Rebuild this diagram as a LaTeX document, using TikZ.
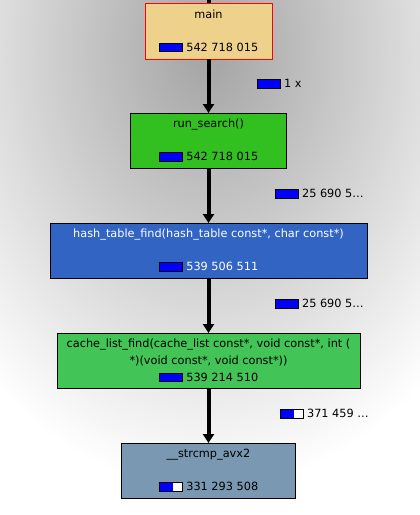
\documentclass[tikz,border=0pt]{standalone}
\usepackage{fontspec}
\setmainfont{DejaVu Sans}
\usepackage{tikz}
\usetikzlibrary{arrows.meta,positioning}
\usepackage{xcolor}
\definecolor{tancustom}{RGB}{238,210,140}
\definecolor{greencustom}{RGB}{50,192,32}
\definecolor{bluecustom}{RGB}{50,100,196}
\definecolor{lightgreencustom}{RGB}{66,196,87}
\definecolor{slatecustom}{RGB}{122,152,178}
\definecolor{barcustom}{RGB}{0,0,255}

% small cost bar, #1 = filled part in pt (of 22pt)
\newcommand{\costbar}[1]{{\setlength{\fboxsep}{0pt}\setlength{\fboxrule}{1pt}%
  \fcolorbox{black}{white}{\makebox[22pt][l]{\color{barcustom}\rule{#1pt}{7.5pt}}}}}

\begin{document}
\begin{tikzpicture}[x=1pt, y=1pt,
    func/.style={draw=black, rectangle, line width=1pt, outer sep=0pt,
      minimum height=55pt, align=center, inner sep=3pt,
      font=\fontsize{11.3}{17}\selectfont},
    call/.style={line width=4pt, -{Triangle[width=11pt,length=9pt]}},
    cost/.style={anchor=west, inner sep=0pt, font=\fontsize{11.3}{12}\selectfont}]

    % background with shadow
    \clip (0,0) rectangle (420,-515);
    \fill[white] (0,0) rectangle (420,-515);
    \shade[inner color=gray!72, outer color=white] (208,-50) ellipse (330 and 440);

    \node[func, fill=tancustom, draw=red, minimum width=127pt, minimum height=56pt] (main) at (208.5,-31) {
        main\\[16pt]\costbar{22} 542 718 015
    };
    \node[func, fill=greencustom, minimum width=156pt, below=54pt of main] (run) {
        run\_search()\\[16pt]\costbar{22} 542 718 015
    };
    \node[func, fill=bluecustom, text=white, minimum width=317pt, below=55pt of run] (hash) {
        hash\_table\_find(hash\_table const*, char const*)\\[16pt]\costbar{22} 539 506 511
    };
    \node[func, fill=lightgreencustom, minimum width=303pt, below=55pt of hash] (cache) {
        cache\_list\_find(cache\_list const*, void const*, int (\\
        *)(void const*, void const*))\\\costbar{22} 539 214 510
    };
    \node[func, fill=slatecustom, minimum width=174pt, below=55pt of cache] (strcmp) {
        \_\_strcmp\_avx2\\[16pt]\costbar{13} 331 293 508
    };

    \coordinate (caller) at (208.5,4);
    \draw[line width=4pt] (caller) -- (main.north);
    \draw[call] (main) -- (run) node[midway, cost, xshift=46pt, yshift=2pt] {\costbar{22} 1 x};
    \draw[call] (run) -- (hash) node[midway, cost, xshift=64pt, yshift=1.5pt] {\costbar{22} 25 690 5…};
    \draw[call] (hash) -- (cache) node[midway, cost, xshift=64pt, yshift=1.5pt] {\costbar{22} 25 690 5…};
    \draw[call] (cache) -- (strcmp) node[midway, cost, xshift=69pt, yshift=1.5pt] {\costbar{13} 371 459 …};
\end{tikzpicture}
\end{document}
